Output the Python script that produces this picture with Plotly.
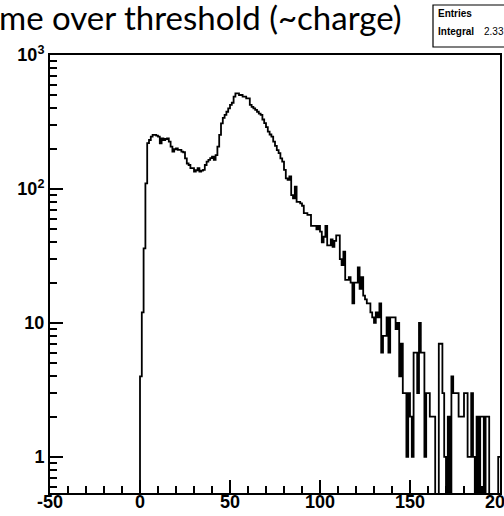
import plotly.graph_objects as go

# ---- data (bin counts, bins of width 1 starting at x = 0) ----
bin_start = 0
bin_width = 1
counts = [
    4, 12, 36, 110, 220, 232, 246, 253, 253, 250,
    246, 219, 239, 232, 236, 239, 226, 207, 190, 198,
    201, 196, 196, 190, 188, 169, 155, 151, 143, 143,
    135, 138, 143, 135, 137, 139, 151, 160, 165, 170,
    174, 165, 179, 207, 253, 309, 340, 357, 377, 400,
    424, 440, 489, 518, 518, 503, 503, 489, 489, 475,
    475, 424, 410, 400, 390, 377, 365, 357, 330, 310,
    290, 268, 255, 246, 226, 210, 195, 185, 169, 160,
    139, 120, 117, 124, 90, 85, 104, 80, 80, 78,
    75, 66, 66, 64, 64, 53, 53, 53, 50, 53,
    48, 40, 44, 53, 38, 38, 42, 37, 41, 45,
    45, 30, 27, 34, 21, 21, 22, 20, 14, 20,
    20, 26, 18, 22, 16, 15, 14, 14, 12, 11,
    10, 12, 11, 14, 6, 8, 8, 11, 6, 11,
    11, 11, 9, 10, 4, 7, 3, 3, 1, 3,
    2, 1, 6, 6, 3, 10, 6, 6, 1, 3,
    3, 2, 2, 2, 0, 0, 7, 7, 3, 1,
    0, 2, 0, 4, 3, 3, 3, 2, 2, 2,
    3, 3, 1, 1, 3, 1, 0, 2, 0, 2,
    2, 0, 2, 2, 0, 0, 0, 0, 0, 1,
]
x_range = [-50, 200]
x_tick_vals = [-50, 0, 50, 100, 150, 200]
x_tick_text = ["-50", "0", "50", "100", "150", "200"]
y_tick_vals = [1, 10, 100, 1000]
y_tick_text = ["1", "10", "10<sup>2</sup>", "10<sup>3</sup>"]
title_text = "me over threshold (~charge)"
stats_labels = ["Entries", "Integral"]
stats_values = ["", "2.33"]

# ---- build step outline (zero bins drawn below the frame, as ROOT does) ----
FLOOR = 0.1
edges = [bin_start + i * bin_width for i in range(len(counts) + 1)]
xs = [x_range[0]] + edges
ys = [FLOOR] + [c if c > 0 else FLOOR for c in counts] + [counts[-1] if counts[-1] > 0 else FLOOR]

W, H = 504, 516
L, R, T, B = 50, 4, 55, 23
pw, ph = W - L - R, H - T - B

def px(xp):
    return (xp - L) / pw

def py(yp):
    return (H - B - yp) / ph

fig = go.Figure()
fig.add_trace(go.Scatter(
    x=xs, y=ys, mode="lines", line=dict(color="black", width=1.8, shape="hv"),
    hoverinfo="skip", showlegend=False,
))

axis_font = dict(family="Liberation Sans, Arial, sans-serif", size=18, color="black", weight="bold")

fig.update_xaxes(
    range=x_range, showgrid=False, zeroline=False,
    showline=True, linecolor="black", linewidth=2, mirror=True,
    ticks="inside", ticklen=13, tickwidth=1.5, tickcolor="black",
    tickvals=x_tick_vals, ticktext=x_tick_text, tickfont=axis_font,
    ticklabelstandoff=-9, ticklabeloverflow="allow",
    minor=dict(ticks="inside", ticklen=7, tickwidth=1.5, tickcolor="black", dtick=10, tick0=0, showgrid=False),
)
fig.update_yaxes(
    type="log", range=[-0.269, 3.0], showgrid=False, zeroline=False,
    showline=True, linecolor="black", linewidth=2, mirror=True,
    ticks="inside", ticklen=13, tickwidth=1.5, tickcolor="black",
    tickvals=y_tick_vals, ticktext=y_tick_text, tickfont=axis_font,
    ticklabeloverflow="allow",
    minor=dict(ticks="inside", ticklen=7, tickwidth=1.5, tickcolor="black", dtick="D1", showgrid=False),
)

annotations = [
    dict(text=title_text, xref="paper", yref="paper", x=px(404), y=py(17),
         xanchor="right", yanchor="middle", showarrow=False,
         font=dict(family="Lato, Open Sans, sans-serif", size=33, color="black")),
]
stat_y = [14, 31]
for lab, val, yy in zip(stats_labels, stats_values, stat_y):
    annotations.append(dict(text=lab, xref="paper", yref="paper", x=px(436), y=py(yy),
                            xanchor="left", yanchor="middle", showarrow=False,
                            font=dict(family="Liberation Sans, Arial, sans-serif", size=10, color="black", weight="bold")))
    if val:
        annotations.append(dict(text=val, xref="paper", yref="paper", x=px(482), y=py(yy),
                                xanchor="left", yanchor="middle", showarrow=False,
                                font=dict(family="Liberation Sans, Arial, sans-serif", size=10, color="black")))

fig.update_layout(
    width=W, height=H, margin=dict(l=L, r=R, t=T, b=B, autoexpand=False),
    paper_bgcolor="white", plot_bgcolor="white",
    annotations=annotations,
    shapes=[dict(type="rect", xref="paper", yref="paper", x0=px(433), x1=px(520), y0=py(47), y1=py(5),
                 line=dict(color="black", width=1.2), fillcolor="rgba(0,0,0,0)")],
)

fig.write_html("out.html")
